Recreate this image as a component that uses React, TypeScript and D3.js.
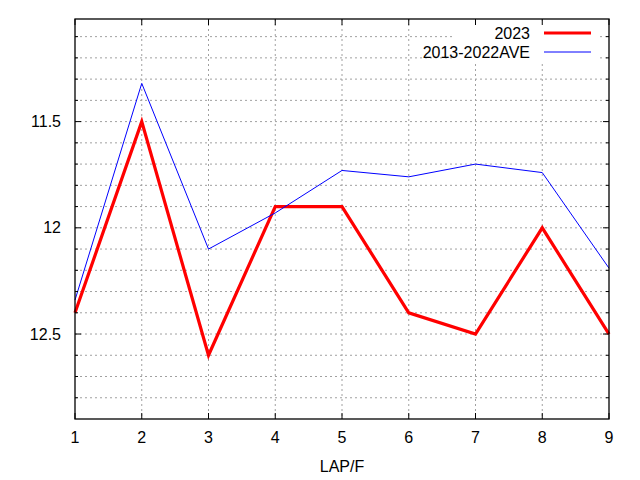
import { useEffect, useRef } from 'react';
import * as d3 from 'd3';

// lap numbers on the x axis
const laps = [1, 2, 3, 4, 5, 6, 7, 8, 9];
// 2023 lap times
const times2023 = [12.4, 11.5, 12.6, 11.9, 11.9, 12.4, 12.5, 12.0, 12.5];
// 2013-2022 average lap times
const timesAve = [12.34, 11.32, 12.1, 11.93, 11.73, 11.76, 11.7, 11.74, 12.19];
// labelled y ticks
const yMajorTicks = [11.5, 12, 12.5];
const seriesNames = ['2023', '2013-2022AVE'];

const App = () => {
  const svgRef = useRef<SVGSVGElement>(null);

  useEffect(() => {
    document.body.style.margin = '0';
    if (!svgRef.current) return;
    const svg = d3.select(svgRef.current);
    svg.selectAll('*').remove();

    const left = 75;
    const right = 609;
    const top = 19;
    const bottom = 419;
    const font = '"Liberation Sans", Arial, sans-serif';

    const x = d3.scaleLinear().domain([1, 9]).range([left, right]);
    // reversed axis: smaller times at the top
    const y = d3.scaleLinear().domain([11.017, 12.9]).range([top, bottom]);

    const minorY = d3.range(111, 129).map(d => d / 10);

    const g = svg.append('g');

    // grid
    g.selectAll('.gy')
      .data(minorY)
      .enter()
      .append('line')
      .attr('x1', left)
      .attr('x2', right)
      .attr('y1', d => y(d))
      .attr('y2', d => y(d))
      .attr('stroke', '#a0a0a0')
      .attr('stroke-width', 1)
      .attr('stroke-dasharray', '2,3');

    g.selectAll('.gx')
      .data(laps.slice(1, -1))
      .enter()
      .append('line')
      .attr('x1', d => x(d))
      .attr('x2', d => x(d))
      .attr('y1', top)
      .attr('y2', bottom)
      .attr('stroke', '#a0a0a0')
      .attr('stroke-width', 1)
      .attr('stroke-dasharray', '2,3');

    // legend background (opaque key)
    g.append('rect')
      .attr('x', 455)
      .attr('y', 21)
      .attr('width', 143)
      .attr('height', 41)
      .attr('fill', 'white');

    const line = d3.line<number>()
      .x((_, i) => x(laps[i]))
      .y(d => y(d));

    g.append('path')
      .datum(times2023)
      .attr('d', line)
      .attr('fill', 'none')
      .attr('stroke', '#ff0000')
      .attr('stroke-width', 3.2)
      .attr('stroke-linejoin', 'miter');

    g.append('path')
      .datum(timesAve)
      .attr('d', line)
      .attr('fill', 'none')
      .attr('stroke', '#0000ff')
      .attr('stroke-width', 1);

    // border
    g.append('rect')
      .attr('x', left)
      .attr('y', top)
      .attr('width', right - left)
      .attr('height', bottom - top)
      .attr('fill', 'none')
      .attr('stroke', 'black')
      .attr('stroke-width', 1.3);

    // y ticks (left and mirrored on right)
    minorY.forEach(v => {
      const len = yMajorTicks.some(m => Math.abs(m - v) < 1e-6) ? 6 : 3;
      g.append('line')
        .attr('x1', left).attr('x2', left + len)
        .attr('y1', y(v)).attr('y2', y(v))
        .attr('stroke', 'black');
      g.append('line')
        .attr('x1', right).attr('x2', right - len)
        .attr('y1', y(v)).attr('y2', y(v))
        .attr('stroke', 'black');
    });

    // x ticks (bottom and mirrored on top)
    laps.forEach(v => {
      g.append('line')
        .attr('x1', x(v)).attr('x2', x(v))
        .attr('y1', bottom).attr('y2', bottom - 6)
        .attr('stroke', 'black');
      g.append('line')
        .attr('x1', x(v)).attr('x2', x(v))
        .attr('y1', top).attr('y2', top + 6)
        .attr('stroke', 'black');
    });

    // tick labels
    g.selectAll('.ylab')
      .data(yMajorTicks)
      .enter()
      .append('text')
      .attr('x', 61)
      .attr('y', d => y(d))
      .attr('dy', '0.35em')
      .attr('text-anchor', 'end')
      .style('font-family', font)
      .style('font-size', '16px')
      .text(d => String(d));

    g.selectAll('.xlab')
      .data(laps)
      .enter()
      .append('text')
      .attr('x', d => x(d))
      .attr('y', 443)
      .attr('text-anchor', 'middle')
      .style('font-family', font)
      .style('font-size', '16px')
      .text(d => String(d));

    g.append('text')
      .attr('x', (left + right) / 2)
      .attr('y', 472)
      .attr('text-anchor', 'middle')
      .style('font-family', font)
      .style('font-size', '16px')
      .text('LAP/F');

    // legend
    const colors = ['#ff0000', '#0000ff'];
    const widths = [3.2, 1];
    seriesNames.forEach((name, i) => {
      const ly = 33 + i * 19;
      g.append('text')
        .attr('x', 530)
        .attr('y', ly)
        .attr('dy', '0.35em')
        .attr('text-anchor', 'end')
        .style('font-family', font)
        .style('font-size', '16px')
        .text(name);
      g.append('line')
        .attr('x1', 544)
        .attr('x2', 591)
        .attr('y1', ly)
        .attr('y2', ly)
        .attr('stroke', colors[i])
        .attr('stroke-width', widths[i]);
    });
  }, []);

  return <svg ref={svgRef} width={640} height={480} style={{ display: 'block', background: 'white' }} />;
};

export default App;
